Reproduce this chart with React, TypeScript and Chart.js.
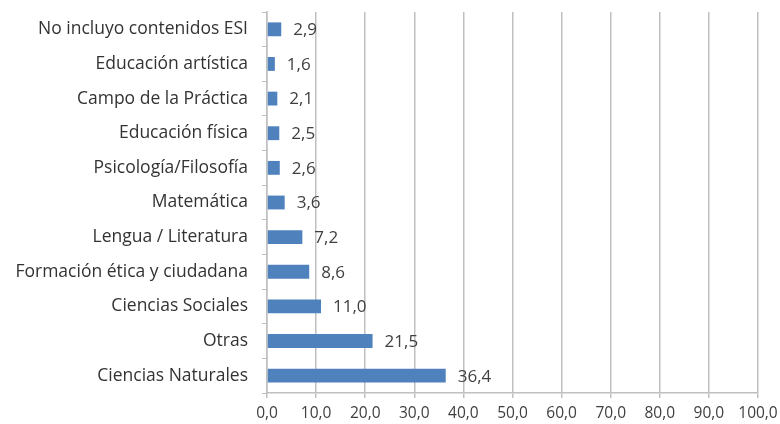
import React, { useEffect, useRef } from "react";
import { Chart, registerables } from "chart.js";

Chart.register(...registerables);

const categories = [
  "No incluyo contenidos ESI",
  "Educación artística",
  "Campo de la Práctica",
  "Educación física",
  "Psicología/Filosofía",
  "Matemática",
  "Lengua / Literatura",
  "Formación ética y ciudadana",
  "Ciencias Sociales",
  "Otras",
  "Ciencias Naturales",
];
const values = [2.9, 1.6, 2.1, 2.5, 2.6, 3.6, 7.2, 8.6, 11.0, 21.5, 36.4];
const xMin = 0;
const xMax = 100;
const xStep = 10;

const fmt = (v: number) => v.toFixed(1).replace(".", ",");

const labelPlugin = {
  id: "barLabels",
  afterDatasetsDraw(chart: any) {
    const ctx = chart.ctx;
    const meta = chart.getDatasetMeta(0);
    ctx.save();
    ctx.font = "17px 'Open Sans', sans-serif";
    ctx.fillStyle = "#404040";
    ctx.textBaseline = "middle";
    ctx.textAlign = "left";
    meta.data.forEach((el: any, i: number) => {
      ctx.fillText(fmt(values[i]), el.x + 12, el.y + 1);
    });
    ctx.restore();
  },
};

export default function App() {
  const ref = useRef<HTMLCanvasElement>(null);
  useEffect(() => {
    document.body.style.margin = "0";
    const chart = new Chart(ref.current!, {
      type: "bar",
      data: {
        labels: categories,
        datasets: [
          {
            data: values,
            backgroundColor: "#4F81BD",
            categoryPercentage: 1,
            barPercentage: 0.4,
          },
        ],
      },
      plugins: [labelPlugin],
      options: {
        indexAxis: "y",
        animation: false,
        responsive: false,
        layout: { padding: { top: 12, right: 22, left: 0, bottom: 0 } },
        plugins: { legend: { display: false }, tooltip: { enabled: false } },
        scales: {
          x: {
            min: xMin,
            max: xMax,
            ticks: {
              stepSize: xStep,
              color: "#404040",
              font: { size: 15.5, family: "'Open Sans', sans-serif" },
              callback: (v: any) => fmt(Number(v)),
              padding: 6,
              maxRotation: 0,
            },
            grid: { color: "#BFBFBF", tickLength: 5, lineWidth: 1.5 },
            border: { color: "#BFBFBF", width: 1.5 },
            afterFit: (s: any) => {
              s.height = 31;
              s.paddingLeft = 0;
              s.paddingRight = 0;
            },
          },
          y: {
            ticks: {
              color: "#333333",
              font: { size: 17.5, family: "'Open Sans', sans-serif" },
              padding: 14,
            },
            grid: { drawOnChartArea: false, color: "#BFBFBF", tickLength: 5, offset: true },
            border: { color: "#BFBFBF", width: 1.5 },
            afterFit: (s: any) => {
              s.width = 267;
              s.paddingTop = 0;
              s.paddingBottom = 0;
            },
          },
        },
      },
    });
    return () => chart.destroy();
  }, []);
  return (
    <div style={{ width: 780, height: 424, background: "#fff" }}>
      <canvas ref={ref} width={780} height={424} />
    </div>
  );
}
